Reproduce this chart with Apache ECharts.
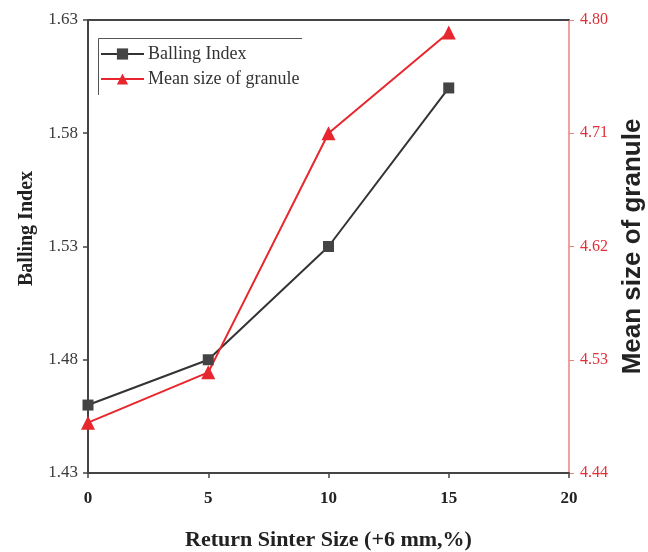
<!DOCTYPE html>
<html><head><meta charset="utf-8">
<script src="https://cdn.jsdelivr.net/npm/echarts@6/dist/echarts.min.js"></script>
<style>html,body{margin:0;padding:0;background:#fff}#c{width:648px;height:552px}</style>
</head><body><div id="c"></div>
<script>
const xValues = [0, 5, 10, 15];
const ballingIndex = [1.46, 1.48, 1.53, 1.60];
const meanSize = [4.48, 4.52, 4.71, 4.79];
const seriesNames = ['Balling Index', 'Mean size of granule'];
const xTitle = 'Return Sinter Size (+6 mm,%)';
const leftTitle = 'Balling Index';
const rightTitle = 'Mean size of granule';

const chart = echarts.init(document.getElementById('c'));
const serif = 'Liberation Serif';
chart.setOption({
  backgroundColor: '#fff',
  animation: false,
  grid: {left: 88, right: 79, top: 20, bottom: 79, containLabel: false, outerBoundsMode: 'none'},
  legend: {
    left: 100, top: 45, orient: 'vertical', itemGap: 7, padding: 0,
    itemWidth: 43, itemHeight: 14,
    textStyle: {fontFamily: serif, fontSize: 18, color: '#333', padding: [0, 0, 0, -1]},
    data: seriesNames
  },
  graphic: [{
    type: 'polyline', silent: true,
    shape: {points: [[98.5, 95], [98.5, 38.5], [302, 38.5]]},
    style: {stroke: '#555', lineWidth: 1, fill: null}
  }],
  xAxis: [{
    type: 'value', min: 0, max: 20, interval: 5,
    name: xTitle, nameLocation: 'middle', nameGap: 56,
    nameTextStyle: {fontFamily: serif, fontWeight: 'bold', fontSize: 22, color: '#222'},
    axisLine: {onZero: false, lineStyle: {color: '#444', width: 2}},
    axisTick: {show: true, length: 5, lineStyle: {color: '#444', width: 1.5}},
    axisLabel: {fontFamily: serif, fontWeight: 'bold', fontSize: 17, color: '#222', margin: 17},
    splitLine: {show: false}
  }, {
    type: 'value', position: 'top', min: 0, max: 20,
    axisLine: {onZero: false, lineStyle: {color: '#444', width: 2}},
    axisTick: {show: false}, axisLabel: {show: false}, splitLine: {show: false}
  }],
  yAxis: [{
    type: 'value', position: 'left', min: 1.43, max: 1.63, interval: 0.05,
    name: leftTitle, nameLocation: 'middle', nameGap: 51,
    nameTextStyle: {fontFamily: serif, fontWeight: 'bold', fontSize: 20, color: '#222', padding: [0, 0, 0, 36]},
    axisLine: {show: true, onZero: false, lineStyle: {color: '#444', width: 2}},
    axisTick: {show: true, length: 5, lineStyle: {color: '#444', width: 1.5}},
    axisLabel: {fontFamily: serif, fontSize: 17, color: '#3a3a3a', margin: 10, formatter: v => v.toFixed(2)},
    splitLine: {show: false}
  }, {
    type: 'value', position: 'right', min: 4.44, max: 4.80, interval: 0.09,
    name: rightTitle, nameLocation: 'middle', nameGap: 51, nameRotate: 90,
    nameTextStyle: {fontFamily: 'Liberation Sans', fontWeight: 'bold', fontSize: 26, color: '#222'},
    axisLine: {show: true, onZero: false, lineStyle: {color: '#f08080', width: 1.5}},
    axisTick: {show: true, length: 5, lineStyle: {color: '#f08080', width: 1}},
    axisLabel: {fontFamily: serif, fontSize: 16, color: '#e0303a', margin: 11, formatter: v => v.toFixed(2)},
    splitLine: {show: false}
  }],
  series: [{
    name: seriesNames[0], type: 'line', xAxisIndex: 0, yAxisIndex: 0,
    data: xValues.map((x, i) => [x, ballingIndex[i]]),
    symbol: 'rect', symbolSize: 11,
    lineStyle: {color: '#333', width: 2},
    itemStyle: {color: '#444'}
  }, {
    name: seriesNames[1], type: 'line', xAxisIndex: 0, yAxisIndex: 1,
    data: xValues.map((x, i) => [x, meanSize[i]]),
    symbol: 'triangle', symbolSize: 14,
    lineStyle: {color: '#e8262d', width: 2},
    itemStyle: {color: '#e8262d'}
  }]
});
</script></body></html>
